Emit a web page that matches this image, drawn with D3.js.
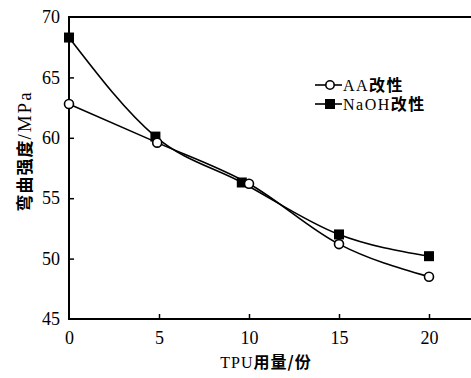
<!DOCTYPE html>
<html>
<head>
  <meta charset="utf-8">
  <script src="https://d3js.org/d3.v7.min.js"></script>
  <style>
    body { margin: 0; background: #fff; }
    svg { display: block; }
    .tick text { font-family: "Liberation Serif", serif; font-size: 18px; fill: #000; }
    .tick line { stroke: #000; stroke-width: 1.5px; }
    .cn { font-family: "Noto Sans CJK SC", sans-serif; font-weight: bold; }
    .lat { font-family: "Liberation Serif", serif; }
  </style>
</head>
<body>
  <div id="chart"></div>
  <script>
    const xTicks = [0, 5, 10, 15, 20];
    const yTicks = [45, 50, 55, 60, 65, 70];
    const aaX = [0, 4.9, 10, 15, 20];
    const aaY = [62.8, 59.6, 56.2, 51.2, 48.5];
    const naohX = [0, 4.8, 9.6, 15, 20];
    const naohY = [68.3, 60.1, 56.3, 52.0, 50.2];

    const width = 471, height = 378;
    const svg = d3.select('#chart').append('svg')
      .attr('width', width)
      .attr('height', height);

    const x = d3.scaleLinear().domain([0, 20]).range([69, 429]);
    const y = d3.scaleLinear().domain([45, 70]).range([319, 17]);

    // frame: left, top and bottom lines, open on the right
    svg.append('path')
      .attr('d', `M${width},${y(70)}H${x(0)}V${y(45)}H${width}`)
      .attr('fill', 'none')
      .attr('stroke', '#000')
      .attr('stroke-width', 2);

    const yAxis = svg.append('g')
      .attr('transform', `translate(${x(0)},0)`)
      .call(d3.axisLeft(y).tickValues(yTicks).tickSize(-5).tickSizeOuter(0).tickPadding(9));
    yAxis.select('.domain').remove();
    yAxis.selectAll('.tick').filter(d => d === 45 || d === 70).select('line').remove();

    const xAxis = svg.append('g')
      .attr('transform', `translate(0,${y(45)})`)
      .call(d3.axisBottom(x).tickValues(xTicks).tickSize(-5).tickSizeOuter(0).tickPadding(12));
    xAxis.select('.domain').remove();
    xAxis.selectAll('.tick').filter(d => d === 0).select('line').remove();

    const line = d3.line()
      .x(d => x(d[0]))
      .y(d => y(d[1]))
      .curve(d3.curveMonotoneX);

    const aa = aaX.map((v, i) => [v, aaY[i]]);
    const naoh = naohX.map((v, i) => [v, naohY[i]]);

    svg.append('path').datum(aa)
      .attr('d', line).attr('fill', 'none').attr('stroke', '#000').attr('stroke-width', 1.6);
    svg.append('path').datum(naoh)
      .attr('d', line).attr('fill', 'none').attr('stroke', '#000').attr('stroke-width', 1.6);

    svg.selectAll('.sq').data(naoh).join('rect')
      .attr('class', 'sq')
      .attr('x', d => x(d[0]) - 5).attr('y', d => y(d[1]) - 5)
      .attr('width', 10).attr('height', 10)
      .attr('fill', '#000');

    svg.selectAll('.ci').data(aa).join('circle')
      .attr('class', 'ci')
      .attr('cx', d => x(d[0])).attr('cy', d => y(d[1]))
      .attr('r', 4.5)
      .attr('fill', '#fff').attr('stroke', '#000').attr('stroke-width', 1.6);

    // legend
    const legend = svg.append('g');
    legend.append('line').attr('x1', 315).attr('x2', 342).attr('y1', 85).attr('y2', 85)
      .attr('stroke', '#000').attr('stroke-width', 1.6);
    legend.append('circle').attr('cx', 330).attr('cy', 85).attr('r', 4.2)
      .attr('fill', '#fff').attr('stroke', '#000').attr('stroke-width', 1.6);
    legend.append('text').attr('x', 343).attr('y', 91)
      .style('font-size', '16px').style('letter-spacing', '1.5px')
      .html('<tspan class="lat">AA</tspan><tspan class="cn">改性</tspan>');

    legend.append('line').attr('x1', 315).attr('x2', 342).attr('y1', 104).attr('y2', 104)
      .attr('stroke', '#000').attr('stroke-width', 1.6);
    legend.append('rect').attr('x', 325).attr('y', 99).attr('width', 10).attr('height', 10)
      .attr('fill', '#000');
    legend.append('text').attr('x', 343).attr('y', 110)
      .style('font-size', '16px').style('letter-spacing', '1.5px')
      .html('<tspan class="lat">NaOH</tspan><tspan class="cn">改性</tspan>');

    // axis titles
    svg.append('text')
      .attr('x', 266).attr('y', 368)
      .attr('text-anchor', 'middle')
      .style('font-size', '16px').style('letter-spacing', '1px')
      .html('<tspan class="lat">TPU</tspan><tspan class="cn">用量/份</tspan>');

    svg.append('text')
      .attr('transform', 'translate(31,151) rotate(-90)')
      .attr('text-anchor', 'middle')
      .style('font-size', '17px')
      .html('<tspan class="cn" style="letter-spacing:1px">弯曲强度</tspan><tspan class="lat" style="font-size:19px;letter-spacing:2px">/MPa</tspan>');
  </script>
</body>
</html>
